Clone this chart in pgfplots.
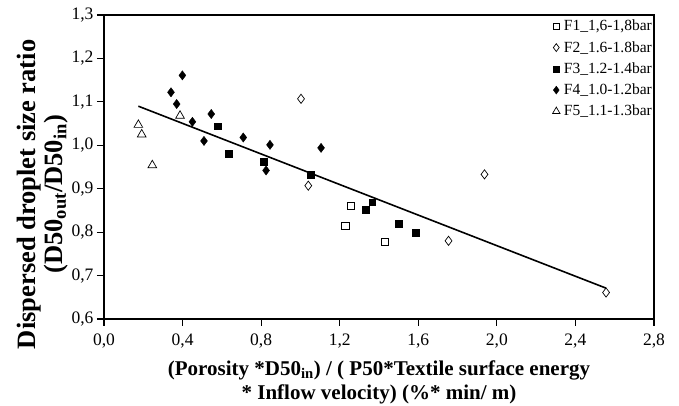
\documentclass[border=0pt]{standalone}
\usepackage{fontspec}
\setmainfont{Liberation Serif}
\usepackage{pgfplots}
\pgfplotsset{compat=1.18}
\begin{document}
\begin{tikzpicture}[x=1pt,y=1pt]
\useasboundingbox (-104,-87) rectangle (575,319);
\begin{axis}[
  at={(0,0)}, anchor=south west,
  scale only axis, width=550pt, height=304pt,
  xmin=0, xmax=2.8, ymin=0.6, ymax=1.3,
  xtick={0,0.4,...,2.8}, ytick={0.6,0.7,...,1.3},
  tick align=outside, tick pos=left,
  major tick length=7pt,
  axis line style={line width=1.2pt},
  every tick/.style={line width=1.2pt, black},
  /pgf/number format/assume math mode=true,
  /pgf/number format/.cd, fixed, fixed zerofill, precision=1, use comma,
  /pgfplots/.cd,
  ticklabel style={font=\fontsize{17.5}{17.5}\selectfont},
  xticklabel style={yshift=-4pt},
  xlabel={(Porosity *D50\textsubscript{in}) / ( P50*Textile surface energy\\* Inflow velocity) (\%* min/ m)},
  xlabel style={font=\fontsize{21}{24}\selectfont\bfseries, align=center, yshift=-6pt},
  ylabel={Dispersed droplet size ratio\\(D50\textsubscript{out}/D50\textsubscript{in})},
  ylabel style={at={(ticklabel cs:0.41)}, font=\fontsize{26.5}{27}\selectfont\bfseries, align=center, yshift=-3pt},
  legend style={draw=none, fill=none, at={(rel axis cs:1,1)}, anchor=north east, xshift=2pt, yshift=-2pt,
    font=\fontsize{15.5}{15.5}\selectfont, row sep=7pt, legend cell align=left,
    nodes={inner sep=1pt},
    /tikz/every odd column/.append style={column sep=3pt}},
  legend image code/.code={\draw[#1, /tikz/every mark/.append style={scale=0.85}] plot coordinates {(0pt,0pt)};},
]
\addplot[only marks, mark=square, mark size=3.6pt, mark options={black, line width=0.7pt}] coordinates {
(1.256,0.860) (1.229,0.815) (1.431,0.777)};
\addlegendentry{F1\_1,6-1,8bar}
\addplot[only marks, mark=diamond, mark size=4.6pt, mark options={black, line width=0.7pt}] coordinates {
(1.003,1.107) (1.040,0.907) (1.937,0.933) (1.754,0.780) (2.556,0.661)};
\addlegendentry{F2\_1.6-1.8bar}
\addplot[only marks, mark=square*, mark size=3.4pt, mark options={black, fill=black}] coordinates {
(0.580,1.044) (0.635,0.981) (0.811,0.962) (1.052,0.932) (1.332,0.851) (1.365,0.869) (1.499,0.820) (1.585,0.799)};
\addlegendentry{F3\_1.2-1.4bar}
\addplot[only marks, mark=diamond*, mark size=4.6pt, mark options={black, fill=black}] coordinates {
(0.341,1.122) (0.370,1.095) (0.399,1.161) (0.450,1.054) (0.509,1.010) (0.546,1.072) (0.709,1.018) (0.825,0.942) (0.845,1.001) (1.105,0.994)};
\addlegendentry{F4\_1.0-1.2bar}
\addplot[only marks, mark=triangle, mark size=5pt, mark options={black, line width=0.7pt}] coordinates {
(0.175,1.047) (0.192,1.025) (0.246,0.954) (0.387,1.068)};
\addlegendentry{F5\_1.1-1.3bar}
\addplot[black, line width=1.6pt, forget plot] coordinates {(0.175,1.090) (2.556,0.671)};
\end{axis}
\end{tikzpicture}
\end{document}
